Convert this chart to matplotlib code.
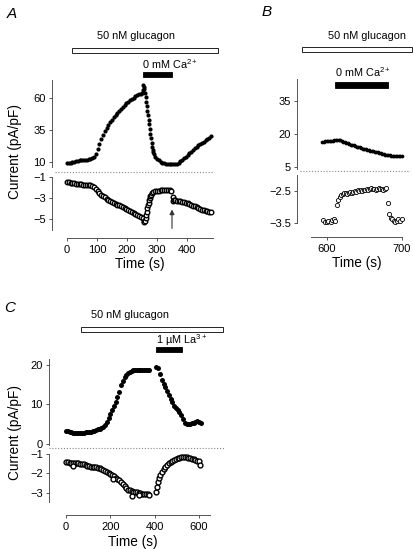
import matplotlib
matplotlib.use("Agg")
import matplotlib.pyplot as plt

plt.rcParams['font.family'] = ['Liberation Sans', 'DejaVu Sans']
plt.rcParams['mathtext.fontset'] = 'custom'
plt.rcParams['mathtext.rm'] = 'Liberation Sans'
plt.rcParams['mathtext.it'] = 'Liberation Sans:italic'

# ---- Panel A: 50 nM glucagon, 0 mM Ca2+ ----
a_top_time = [0, 6, 12, 18, 24, 30, 36, 42, 48, 54, 60, 66, 72, 78, 84, 90, 96, 102, 108, 114,
              120, 126, 132, 138, 144, 150, 156, 162, 168, 174, 180, 186, 192, 198, 204, 210, 216,
              222, 228, 234, 240, 246, 250, 252, 254, 256, 258, 260, 262, 264, 266, 268, 270, 272,
              274, 276, 278, 280, 282, 284, 286, 288, 290, 294, 300, 306, 312, 318, 324, 330, 336,
              342, 348, 354, 360, 366, 372, 378, 384, 390, 396, 402, 408, 414, 420, 426, 432, 438,
              444, 450, 456, 462, 468, 474, 480]
a_top_current = [9.5, 9.4, 9.5, 9.8, 10.2, 10.6, 11.0, 11.4, 11.6, 11.8, 11.7, 11.8, 12.0, 12.2,
                 12.8, 14.0, 16.5, 20.0, 24.0, 28.0, 31.0, 34.0, 36.5, 39.0, 41.0, 43.0, 45.0,
                 47.0, 48.5, 50.0, 51.5, 53.0, 54.5, 56.0, 57.0, 58.3, 59.3, 60.3, 61.3, 62.0,
                 62.8, 63.5, 64.0, 66.0, 70.0, 69.0, 67.0, 64.0, 61.0, 57.0, 53.5, 50.0, 46.5,
                 43.0, 39.5, 36.0, 32.0, 28.5, 25.0, 22.0, 19.5, 17.5, 16.0, 14.0, 12.5, 11.3,
                 10.3, 9.6, 9.0, 8.6, 8.3, 8.2, 8.1, 8.1, 8.3, 8.8, 9.6, 10.6, 11.8, 13.0, 14.3,
                 15.6, 16.9, 18.2, 19.5, 20.7, 21.9, 23.0, 24.0, 25.0, 26.0, 27.0, 28.0, 29.0, 30.0]

a_bot_time = [0, 6, 12, 18, 24, 30, 36, 42, 48, 54, 60, 66, 72, 78, 84, 90, 96, 102, 108, 114,
              120, 126, 132, 138, 144, 150, 156, 162, 168, 174, 180, 186, 192, 198, 204, 210, 216,
              222, 228, 234, 240, 246, 252, 256, 258, 260, 262, 264, 266, 268, 270, 272, 274, 276,
              278, 280, 284, 288, 294, 300, 306, 312, 318, 324, 330, 336, 342, 348, 352, 354, 356,
              360, 366, 372, 378, 384, 390, 396, 402, 408, 414, 420, 426, 432, 438, 444, 450, 456,
              462, 468, 474, 480]
a_bot_current = [-1.50, -1.52, -1.55, -1.58, -1.60, -1.63, -1.66, -1.68, -1.70, -1.72, -1.74,
                 -1.75, -1.77, -1.80, -1.85, -1.95, -2.10, -2.30, -2.50, -2.68, -2.82, -2.95,
                 -3.05, -3.15, -3.25, -3.35, -3.45, -3.55, -3.63, -3.70, -3.78, -3.87, -3.95,
                 -4.05, -4.15, -4.25, -4.35, -4.45, -4.53, -4.62, -4.72, -4.82, -4.95, -5.15,
                 -5.25, -5.20, -4.95, -4.60, -4.30, -4.00, -3.70, -3.45, -3.20, -3.00, -2.85,
                 -2.70, -2.55, -2.45, -2.38, -2.33, -2.30, -2.28, -2.27, -2.27, -2.27, -2.28,
                 -2.28, -2.30, -2.90, -3.30, -3.15, -3.20, -3.25, -3.27, -3.30, -3.35, -3.40,
                 -3.45, -3.50, -3.58, -3.65, -3.72, -3.80, -3.88, -3.95, -4.02, -4.10, -4.15,
                 -4.20, -4.25, -4.30, -4.30]

# ---- Panel B: later period, 0 mM Ca2+ again ----
b_top_time = [594, 596, 598, 600, 602, 604, 606, 608, 610, 612, 614, 616, 618, 620, 622, 624,
              626, 628, 630, 632, 634, 636, 638, 640, 642, 644, 646, 648, 650, 652, 654, 656,
              658, 660, 662, 664, 666, 668, 670, 672, 674, 676, 678, 680, 682, 684, 686, 688,
              690, 692, 694, 696, 698, 700]
b_top_current = [16.4, 16.5, 16.6, 16.7, 16.8, 16.9, 17.0, 17.0, 17.1, 17.2, 17.3, 17.3, 17.1,
                 16.8, 16.5, 16.2, 16.0, 15.7, 15.4, 15.2, 15.0, 14.8, 14.6, 14.3, 14.1, 13.9,
                 13.6, 13.4, 13.2, 13.0, 12.8, 12.6, 12.4, 12.3, 12.1, 12.0, 11.8, 11.6, 11.4,
                 11.2, 11.0, 10.8, 10.6, 10.5, 10.4, 10.3, 10.2, 10.1, 10.0, 10.0, 9.9, 9.9,
                 9.8, 9.8]

b_bot_time = [595, 597, 600, 602, 605, 607, 609, 611, 613, 615, 617, 619, 621, 623, 625, 627,
              629, 631, 633, 635, 637, 639, 641, 643, 645, 647, 649, 651, 653, 655, 657, 659,
              661, 663, 665, 667, 669, 671, 673, 675, 677, 679, 681, 683, 685, 687, 689, 691,
              693, 695, 697, 700]
b_bot_current = [-3.40, -3.45, -3.47, -3.43, -3.47, -3.40, -3.38, -3.42, -2.95, -2.78, -2.68,
                 -2.62, -2.58, -2.55, -2.56, -2.58, -2.55, -2.53, -2.55, -2.52, -2.50, -2.52,
                 -2.48, -2.50, -2.47, -2.49, -2.46, -2.48, -2.45, -2.47, -2.44, -2.42, -2.45,
                 -2.43, -2.46, -2.44, -2.42, -2.45, -2.43, -2.46, -2.44, -2.42, -2.87, -3.23,
                 -3.33, -3.38, -3.42, -3.46, -3.43, -3.38, -3.42, -3.38]

# ---- Panel C: 50 nM glucagon, 1 uM La3+ ----
c_top_time = [0, 8, 16, 24, 32, 40, 48, 56, 64, 72, 80, 88, 96, 104, 112, 120, 128, 136, 144,
              152, 160, 168, 176, 184, 192, 200, 208, 216, 224, 232, 240, 248, 256, 264, 272,
              280, 288, 296, 304, 312, 320, 328, 336, 344, 352, 360, 368, 376,
              408, 416, 424, 432, 440, 448, 456, 464, 472, 480, 488, 496, 504, 512, 520, 528,
              536, 544, 552, 560, 568, 576, 584, 592, 600, 608]
c_top_current = [3.4, 3.3, 3.1, 3.0, 2.9, 2.8, 2.7, 2.7, 2.7, 2.8, 2.9, 3.0, 3.0, 3.0, 3.1, 3.2,
                 3.3, 3.5, 3.7, 3.9, 4.1, 4.4, 4.9, 5.6, 6.5, 7.5, 8.6, 9.6, 10.5, 11.8, 13.2,
                 14.8, 16.0, 16.9, 17.5, 17.9, 18.2, 18.4, 18.6, 18.7, 18.8, 18.8, 18.8, 18.7,
                 18.6, 18.6, 18.6, 18.6,
                 19.5, 19.2, 17.8, 16.2, 15.2, 14.5, 13.5, 12.5, 11.5, 10.6, 9.7, 9.0, 8.5, 8.0,
                 7.3, 6.4, 5.4, 5.1, 5.0, 5.1, 5.2, 5.4, 5.6, 5.8, 5.6, 5.4]

c_bot_time = [0, 8, 16, 24, 32, 40, 48, 56, 64, 72, 80, 88, 96, 104, 112, 120, 128, 136, 144,
              152, 160, 168, 176, 184, 192, 200, 208, 216, 224, 232, 240, 248, 256, 264, 272,
              280, 288, 296, 304, 312, 320, 328, 336, 344, 352, 360, 368, 376,
              408, 412, 416, 420, 424, 432, 440, 448, 456, 464, 472, 480, 488, 496, 504, 512,
              520, 528, 536, 544, 552, 560, 568, 576, 584, 592, 600, 604,
              30, 212, 300, 330]
c_bot_current = [-1.40, -1.42, -1.44, -1.46, -1.47, -1.48, -1.48, -1.48, -1.50, -1.51, -1.53,
                 -1.58, -1.62, -1.64, -1.65, -1.66, -1.67, -1.68, -1.70, -1.73, -1.76, -1.80,
                 -1.86, -1.93, -1.99, -2.04, -2.09, -2.15, -2.22, -2.28, -2.35, -2.44, -2.55,
                 -2.66, -2.76, -2.83, -2.87, -2.90, -2.93, -2.95, -2.97, -2.99, -3.01, -3.03,
                 -3.05, -3.07, -3.08, -3.09,
                 -2.95, -2.70, -2.45, -2.25, -2.08, -1.92, -1.78, -1.66, -1.56, -1.47, -1.40,
                 -1.34, -1.29, -1.25, -1.22, -1.19, -1.17, -1.16, -1.16, -1.17, -1.19, -1.22,
                 -1.25, -1.28, -1.31, -1.34, -1.38, -1.55,
                 -1.62, -2.30, -3.15, -3.12]

W, H = 413, 549
PT = 0.72  # points per pixel at dpi 100
fig = plt.figure(figsize=(W / 100, H / 100), dpi=100)


def box(left, top, right, bottom):
    # pixel box -> figure fraction
    return [left / W, 1 - bottom / H, (right - left) / W, (bottom - top) / H]


def style(ax, show_x):
    for s in ['top', 'right']:
        ax.spines[s].set_visible(False)
    ax.spines['left'].set_linewidth(0.7)
    ax.spines['left'].set_color('#555555')
    ax.tick_params(axis='y', length=2.4, width=0.7, pad=2, labelsize=8, color='#555555')
    if show_x:
        ax.spines['bottom'].set_linewidth(0.7)
        ax.spines['bottom'].set_color('#555555')
        ax.tick_params(axis='x', length=2.4, width=0.7, pad=2.5, labelsize=8, color='#555555')
    else:
        ax.spines['bottom'].set_visible(False)
        ax.tick_params(axis='x', bottom=False, labelbottom=False)


def panel(top_box, bot_box, xlim, top_ylim, bot_ylim, top_ticks, bot_ticks, xticks,
          xbounds, top_bounds, bot_bounds, x_out, t_top, v_top, t_bot, v_bot,
          ms, ms_open, mew):
    ax1 = fig.add_axes(box(*top_box))
    ax2 = fig.add_axes(box(*bot_box))
    for ax in (ax1, ax2):
        ax.set_xlim(*xlim)
        ax.patch.set_visible(False)
    ax1.set_ylim(*top_ylim)
    ax2.set_ylim(*bot_ylim)
    style(ax1, False)
    style(ax2, True)
    ax1.set_yticks(top_ticks)
    ax2.set_yticks(bot_ticks)
    ax2.set_xticks(xticks)
    ax1.spines['left'].set_bounds(*top_bounds)
    ax2.spines['left'].set_bounds(*bot_bounds)
    ax2.spines['bottom'].set_bounds(*xbounds)
    ax2.spines['bottom'].set_position(('outward', x_out * PT))
    ax1.plot(t_top, v_top, 'o', color='black', ms=ms, mew=0, clip_on=False)
    ax2.plot(t_bot, v_bot, 'o', mfc='white', mec='black', ms=ms_open, mew=mew,
             clip_on=False)
    return ax1, ax2


def bar(ax, x0, x1, y0, y1, filled):
    tr = ax.get_xaxis_transform()
    ax.add_patch(plt.Rectangle((x0, y0), x1 - x0, y1 - y0, transform=tr, clip_on=False,
                               facecolor='black' if filled else 'white',
                               edgecolor='black', linewidth=0.6))


def dotted(ax, x0, x1, y):
    ax.plot([x0, x1], [y, y], transform=ax.get_xaxis_transform(), color='#888888',
            lw=0.8, ls=(0, (1, 1.6)), clip_on=False)


# Panel A
a1, a2 = panel((52, 80, 217, 167), (52, 175, 217, 232), (-50, 500), (6.1, 74.1),
               (-6.24, -0.81), [10, 35, 60], [-1, -3, -5], [0, 100, 200, 300, 400],
               (0, 487), (6.1, 74.1), (-6.05, -1), 6,
               a_top_time, a_top_current, a_bot_time, a_bot_current, 3.0, 3.3, 1.0)
dotted(a1, -40, 487, -0.057)
bar(a1, 17, 503, 1.31, 1.368, False)
a1.text(230, 1.506, '50 nM glucagon', transform=a1.get_xaxis_transform(),
        ha='center', va='center', fontsize=7.8)
bar(a1, 253, 350, 1.034, 1.092, True)
a1.text(250, 1.18, '0 mM Ca$^{2+}$', transform=a1.get_xaxis_transform(),
        ha='left', va='center', fontsize=7.8)
a2.annotate('', xy=(350, -4.1), xytext=(350, -5.9),
            arrowprops=dict(arrowstyle='-|>', color='#333333', lw=0.8,
                            mutation_scale=7, shrinkA=0, shrinkB=0))

# Panel B
b1, b2 = panel((297, 79, 413, 169), (297, 175, 413, 226), (560, 715), (4.1, 45),
               (-3.59, -2.0), [5, 20, 35], [-2.5, -3.5], [600, 700],
               (579, 700), (4.1, 45), (-3.5, -2.0), 11,
               b_top_time, b_top_current, b_bot_time, b_bot_current, 2.7, 3.0, 0.6)
dotted(b1, 564, 711, -0.022)
bar(b1, 567, 714, 1.30, 1.356, False)
b1.text(653, 1.478, '50 nM glucagon', transform=b1.get_xaxis_transform(),
        ha='center', va='center', fontsize=7.8)
bar(b1, 611, 681, 0.90, 0.967, True)
b1.text(648, 1.078, '0 mM Ca$^{2+}$', transform=b1.get_xaxis_transform(),
        ha='center', va='center', fontsize=7.8)

# Panel C
c1, c2 = panel((49, 359, 230, 445), (49, 452, 230, 505), (-76.7, 740), (-0.25, 21.5),
               (-3.62, -0.9), [0, 10, 20], [-1, -2, -3], [0, 200, 400, 600],
               (0, 650), (-0.25, 21.5), (-3.46, -1), 10,
               c_top_time, c_top_current, c_bot_time, c_bot_current, 3.6, 3.5, 1.0)
dotted(c1, -76.7, 717, -0.035)
bar(c1, 68, 708, 1.314, 1.372, False)
c1.text(289, 1.512, '50 nM glucagon', transform=c1.get_xaxis_transform(),
        ha='center', va='center', fontsize=7.8)
bar(c1, 406, 523, 1.081, 1.14, True)
c1.text(404, 1.215, '1 µM La$^{3+}$', transform=c1.get_xaxis_transform(),
        ha='left', va='center', fontsize=7.8)

# labels
for x, y, s in [(12, 14, 'A'), (267, 12, 'B'), (10, 308, 'C')]:
    fig.text(x / W, 1 - y / H, s, ha='center', va='center', fontsize=11, style='italic')
for x, y in [(140, 264), (357, 263), (133, 542)]:
    fig.text(x / W, 1 - y / H, 'Time (s)', ha='center', va='center', fontsize=9.8)
for x, y in [(15, 152), (15, 432)]:
    fig.text(x / W, 1 - y / H, 'Current (pA/pF)', ha='center', va='center',
             fontsize=9.8, rotation=90)

fig.savefig('out.png', dpi=100)
